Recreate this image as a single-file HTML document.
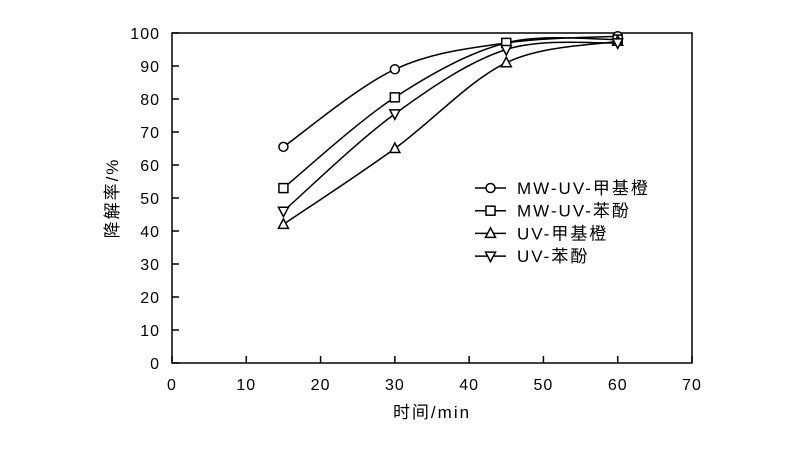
<!DOCTYPE html>
<html><head><meta charset="utf-8"><style>
body{margin:0;background:#fff}
svg text{font-family:"Liberation Sans","Noto Sans CJK SC",sans-serif;fill:#000}
</style></head><body>
<svg id="c" width="800" height="450" viewBox="0 0 800 450">
<rect x="172" y="33" width="520" height="330" fill="none" stroke="#000" stroke-width="1.5"/>
<g id="ax"></g><g id="series"></g><g id="legend"></g>
<text x="432" y="418" text-anchor="middle" font-size="17" letter-spacing="2">时间/min</text>
<text transform="translate(118,198) rotate(-90)" text-anchor="middle" font-size="17" letter-spacing="2">降解率/%</text>
</svg>
<script>
const xCats=[15,30,45,60];
const names=["MW-UV-甲基橙","MW-UV-苯酚","UV-甲基橙","UV-苯酚"];
const s1=[65.5,89,97,99];
const s2=[53,80.5,97,98];
const s3=[42,65,91,97.5];
const s4=[46,75.5,95,97];
const xTicks=[0,10,20,30,40,50,60,70];
const yTicks=[0,10,20,30,40,50,60,70,80,90,100];
const NS="http://www.w3.org/2000/svg";
const X=v=>172+v*520/70, Y=v=>363-v*330/100;
function mk(t,a,p){const e=document.createElementNS(NS,t);for(const k in a)e.setAttribute(k,a[k]);p.appendChild(e);return e;}
const ax=document.getElementById('ax');
xTicks.forEach(v=>{
 const l=mk('line',{x1:X(v),x2:X(v),y1:363,y2:356,stroke:'#000','stroke-width':1.5},ax);
 
 
 const t=mk('text',{x:X(v),y:390,'text-anchor':'middle','font-size':16,'letter-spacing':1},ax);t.textContent=v;
 
 
});
yTicks.forEach(v=>{
 const l=mk('line',{x1:172,x2:179,y1:Y(v),y2:Y(v),stroke:'#000','stroke-width':1.5},ax);
 
 
 const t=mk('text',{x:160,y:Y(v)+6,'text-anchor':'end','font-size':16,'letter-spacing':1},ax);t.textContent=v;
 
 
});
function marker(g,i,x,y){
 let e;
 if(i==0)e=mk('circle',{cx:x,cy:y,r:4.5},g);
 else if(i==1)e=mk('rect',{x:x-4.5,y:y-4.5,width:9,height:9},g);
 else if(i==2)e=mk('polygon',{points:`${x},${y-5.5} ${x-5},${y+4} ${x+5},${y+4}`},g);
 else e=mk('polygon',{points:`${x},${y+5.5} ${x-5},${y-4} ${x+5},${y-4}`},g);
 e.setAttribute('fill','#fff');e.setAttribute('stroke','#000');e.setAttribute('stroke-width','1.5');
 return e;
}
function spline(pts){
 let d=`M${pts[0][0]},${pts[0][1]}`;
 for(let i=0;i<pts.length-1;i++){
  const p0=pts[Math.max(i-1,0)],p1=pts[i],p2=pts[i+1],p3=pts[Math.min(i+2,pts.length-1)];
  const c1=[p1[0]+(p2[0]-p0[0])/6,p1[1]+(p2[1]-p0[1])/6];
  const c2=[p2[0]-(p3[0]-p1[0])/6,p2[1]-(p3[1]-p1[1])/6];
  d+=` C${c1[0]},${c1[1]} ${c2[0]},${c2[1]} ${p2[0]},${p2[1]}`;
 }
 return d;
}
const sg=document.getElementById('series'),lg=document.getElementById('legend');
[s1,s2,s3,s4].forEach((s,i)=>{
 const g=mk('g',{},sg);
 
 
 const pts=xCats.map((x,j)=>[X(x),Y(s[j])]);
 const p=mk('path',{d:spline(pts),fill:'none',stroke:'#000','stroke-width':1.5},g);
 
 
 pts.forEach(q=>{const m=marker(g,i,q[0],q[1]);
  
  });
 const ly=188+i*22.7;
 const lgi=mk('g',{},lg);
 
 
 mk('line',{x1:475,x2:506,y1:ly,y2:ly,stroke:'#000','stroke-width':1.5},lgi);
 marker(lgi,i,490.5,ly);
 const t=mk('text',{x:517,y:ly+6,'font-size':17,'letter-spacing':2},lgi);t.textContent=names[i];
});
</script>
</body></html>
